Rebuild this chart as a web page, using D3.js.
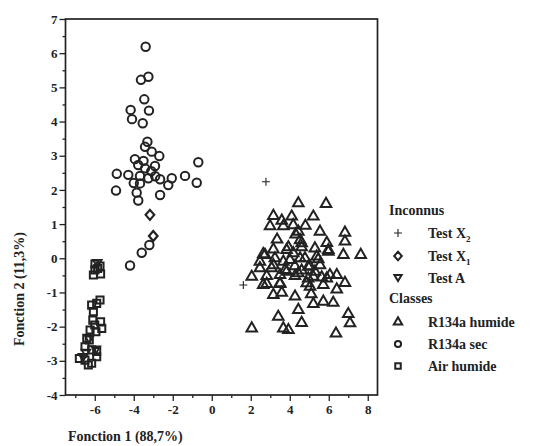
<!DOCTYPE html>
<html><head><meta charset="utf-8">
<script src="https://cdn.jsdelivr.net/npm/d3@7"></script>
<style>body{margin:0;background:#fff}svg{display:block}text{font-family:"Liberation Serif","Times New Roman",serif;fill:#222}</style>
</head><body>
<script>
// ---- data (Fonction 1, Fonction 2) ----
const xTicks = [-6,-4,-2,0,2,4,6,8];
const yTicks = [-4,-3,-2,-1,0,1,2,3,4,5,6,7];

const r134aHumide = [
 [4.44,1.61],[5.86,1.59],[3.16,1.24],[3.59,1.10],[4.10,1.22],[5.21,1.22],[2.99,0.94],[3.67,0.94],
 [4.18,0.97],[4.44,0.78],[5.55,0.78],[6.83,0.75],[6.83,0.49],[4.53,0.53],[5.90,0.45],[3.16,0.26],
 [3.93,0.32],[4.61,0.32],[5.29,0.29],[5.98,0.19],[2.64,0.12],[6.75,0.10],[7.64,0.10],[3.24,0.00],
 [4.01,-0.05],[4.78,0.00],[5.46,-0.03],[2.47,-0.10],[4.26,-0.23],[5.03,-0.23],[2.47,-0.29],[3.07,-0.29],
 [3.76,-0.34],[4.61,-0.36],[5.29,-0.39],[6.06,-0.49],[6.41,-0.49],[2.05,-0.54],[2.82,-0.52],[3.50,-0.49],
 [4.27,-0.52],[4.95,-0.59],[5.64,-0.56],[6.83,-0.72],[2.82,-0.75],[3.50,-0.75],[5.04,-0.83],[5.72,-0.78],
 [6.41,-0.91],[3.16,-1.07],[3.59,-1.01],[4.27,-1.12],[5.21,-1.34],[5.72,-1.27],[6.23,-1.30],[4.44,-1.51],
 [7.00,-1.63],[7.09,-1.90],[3.41,-1.71],[4.61,-1.89],[2.05,-2.05],[3.67,-2.05],[3.93,-2.10],[6.37,-2.20],
 [3.84,0.24],[4.53,0.00],[3.16,-0.20],[3.84,-0.39],[4.44,-0.44],[4.95,-0.25],[5.21,-0.54],[5.55,-0.20],
 [5.90,-0.59],[2.73,0.10],[2.64,-0.78],[3.50,-0.73],[4.87,-0.73],[4.18,0.15],[4.61,0.44],[5.38,0.05],
 [5.98,0.24],[3.67,-0.10],[4.30,0.70],[4.80,0.95],[3.35,0.55],[5.10,-1.05]
];
const r134aSec = [
 [-3.39,6.19],[-3.63,5.22],[-3.25,5.31],[-3.46,4.65],[-4.16,4.34],[-3.22,4.32],[-4.09,4.07],[-3.54,3.95],
 [-3.30,3.41],[-3.42,3.26],[-3.08,3.12],[-2.69,2.99],[-3.94,2.90],[-0.69,2.81],[-3.77,2.73],[-2.91,2.70],
 [-3.42,2.63],[-4.87,2.47],[-4.28,2.44],[-3.68,2.41],[-3.25,2.34],[-2.65,2.31],[-2.05,2.34],[-1.37,2.41],
 [-0.77,2.21],[-2.23,2.14],[-3.68,2.19],[-4.91,1.98],[-3.85,1.92],[-2.65,1.85],[-3.77,1.69],[-3.59,0.16],
 [-3.20,0.39],[-4.19,-0.21],[-3.10,2.55],[-3.50,2.85],[-4.00,2.20],[-2.90,2.40]
];
const airHumide = [
 [-5.99,-0.17],[-5.73,-0.23],[-5.99,-0.34],[-5.70,-0.46],[-6.07,-0.49],[-5.73,-1.22],[-5.90,-1.32],[-6.16,-1.37],
 [-6.07,-1.56],[-6.10,-1.81],[-5.70,-1.86],[-5.64,-2.05],[-6.24,-2.10],[-5.94,-2.15],[-6.41,-2.34],[-6.28,-2.39],
 [-6.50,-2.59],[-6.16,-2.68],[-5.90,-2.73],[-6.79,-2.93],[-6.50,-2.98],[-6.16,-3.07],[-6.33,-3.12],[-5.90,-2.88],
 [-5.85,-0.30],[-6.00,-1.95]
];
const testA = [[-5.87,-0.15],[-6.28,-2.37],[-5.94,-2.68],[-6.45,-2.78],[-6.60,-2.90]];
const testX1 = [[-3.17,1.27],[-3.00,0.65]];
const testX2 = [[2.78,2.24],[1.62,-0.78]];

const legendGroups = ["Inconnus","Classes"];
const legendItems = [
 {group:"Inconnus", label:"Test X", sub:"2", sym:"cross"},
 {group:"Inconnus", label:"Test X", sub:"1", sym:"diamond"},
 {group:"Inconnus", label:"Test A", sub:"", sym:"down"},
 {group:"Classes", label:"R134a humide", sub:"", sym:"up"},
 {group:"Classes", label:"R134a sec", sub:"", sym:"circle"},
 {group:"Classes", label:"Air humide", sub:"", sym:"square"}
];

// ---- drawing ----
const W=537,H=446;
const svg=d3.select("body").append("svg").attr("width",W).attr("height",H);
const x=d3.scaleLinear().domain([-7.5,8.5]).range([65.5,377.5]);
const y=d3.scaleLinear().domain([-4,7]).range([395,19]);
const ink="#222";

const symPath={
 up: d3.symbol(d3.symbolTriangle,48)(),
 down: "M0,3.6L-4.4,-3.6L4.4,-3.6Z",
 circle: d3.symbol(d3.symbolCircle,56)(),
 square: d3.symbol(d3.symbolSquare,50)(),
 diamond: "M0,-5L4.3,0L0,5L-4.3,0Z",
 cross: "M-4,0L4,0M0,-4L0,4"
};
const legPath={
 up: d3.symbol(d3.symbolTriangle,30)(),
 down: "M0,3L-3.6,-3L3.6,-3Z",
 circle: d3.symbol(d3.symbolCircle,30)(),
 square: d3.symbol(d3.symbolSquare,30)(),
 diamond: "M0,-4.3L3.8,0L0,4.3L-3.8,0Z",
 cross: "M-4,0L4,0M0,-4L0,4"
};
function drawSeries(data,sym,sw){
 svg.append("g").selectAll("path").data(data).join("path")
  .attr("transform",d=>`translate(${x(d[0])},${y(d[1])})`)
  .attr("d",symPath[sym]).attr("fill","none").attr("stroke",ink)
  .attr("stroke-width",sw).attr("stroke-linejoin","miter");
}
drawSeries(r134aSec,"circle",2);
drawSeries(r134aHumide,"up",2);
drawSeries(airHumide,"square",2);
drawSeries(testA,"down",1.8);
drawSeries(testX1,"diamond",2.2);
drawSeries(testX2,"cross",1.1);

svg.append("rect").attr("x",65.5).attr("y",19).attr("width",312).attr("height",376)
 .attr("fill","none").attr("stroke",ink).attr("stroke-width",1.7);

const yAxis=d3.axisLeft(y).tickValues(yTicks).tickSize(6).tickFormat(d3.format("d"));
const yMinor=d3.axisLeft(y).tickValues(d3.range(-3.5,7,1)).tickSize(3).tickFormat("");
const xAxis=d3.axisBottom(x).tickValues(xTicks).tickSize(6).tickFormat(d3.format("d"));
const xMinor=d3.axisBottom(x).tickValues([-7,-5,-3,-1,1,3,5,7]).tickSize(3).tickFormat("");
function style(g){g.select(".domain").remove();g.selectAll("line").attr("stroke",ink).attr("stroke-width",1.3);
 g.selectAll("text").attr("font-size",13).attr("font-weight","bold").attr("fill",ink)
  .attr("font-family","'Liberation Serif',serif").text(function(){return this.textContent.replace("−","-");});}
svg.append("g").attr("transform","translate(65.5,0)").call(yAxis).call(style).selectAll("text").attr("x",-8);
svg.append("g").attr("transform","translate(65.5,0)").call(yMinor).call(style);
svg.append("g").attr("transform","translate(0,395)").call(xAxis).call(style).selectAll("text").attr("y",10);
svg.append("g").attr("transform","translate(0,395)").call(xMinor).call(style);

svg.append("text").attr("x",68).attr("y",441).attr("font-size",14).attr("font-weight","bold").text("Fonction 1 (88,7%)");
svg.append("text").attr("transform","translate(24,289) rotate(-90)").attr("text-anchor","middle")
 .attr("font-size",14).attr("font-weight","bold").text("Fonction 2 (11,3%)");

const lg=svg.append("g");
const rowY=[233,256,278,322,344,366];
const groupY={"Inconnus":215,"Classes":303};
legendGroups.forEach(g=>lg.append("text").attr("x",389).attr("y",groupY[g]).attr("font-size",14).attr("font-weight","bold").text(g));
legendItems.forEach((it,i)=>{
 lg.append("path").attr("transform",`translate(398,${rowY[i]})`).attr("d",legPath[it.sym])
  .attr("fill","none").attr("stroke",ink).attr("stroke-width",it.sym==="cross"?1.1:2);
 const t=lg.append("text").attr("x",428).attr("y",rowY[i]+5).attr("font-size",14).attr("font-weight","bold").text(it.label);
 if(it.sub) t.append("tspan").attr("font-size",9).attr("dy",4).text(it.sub);
});
</script>
</body></html>
